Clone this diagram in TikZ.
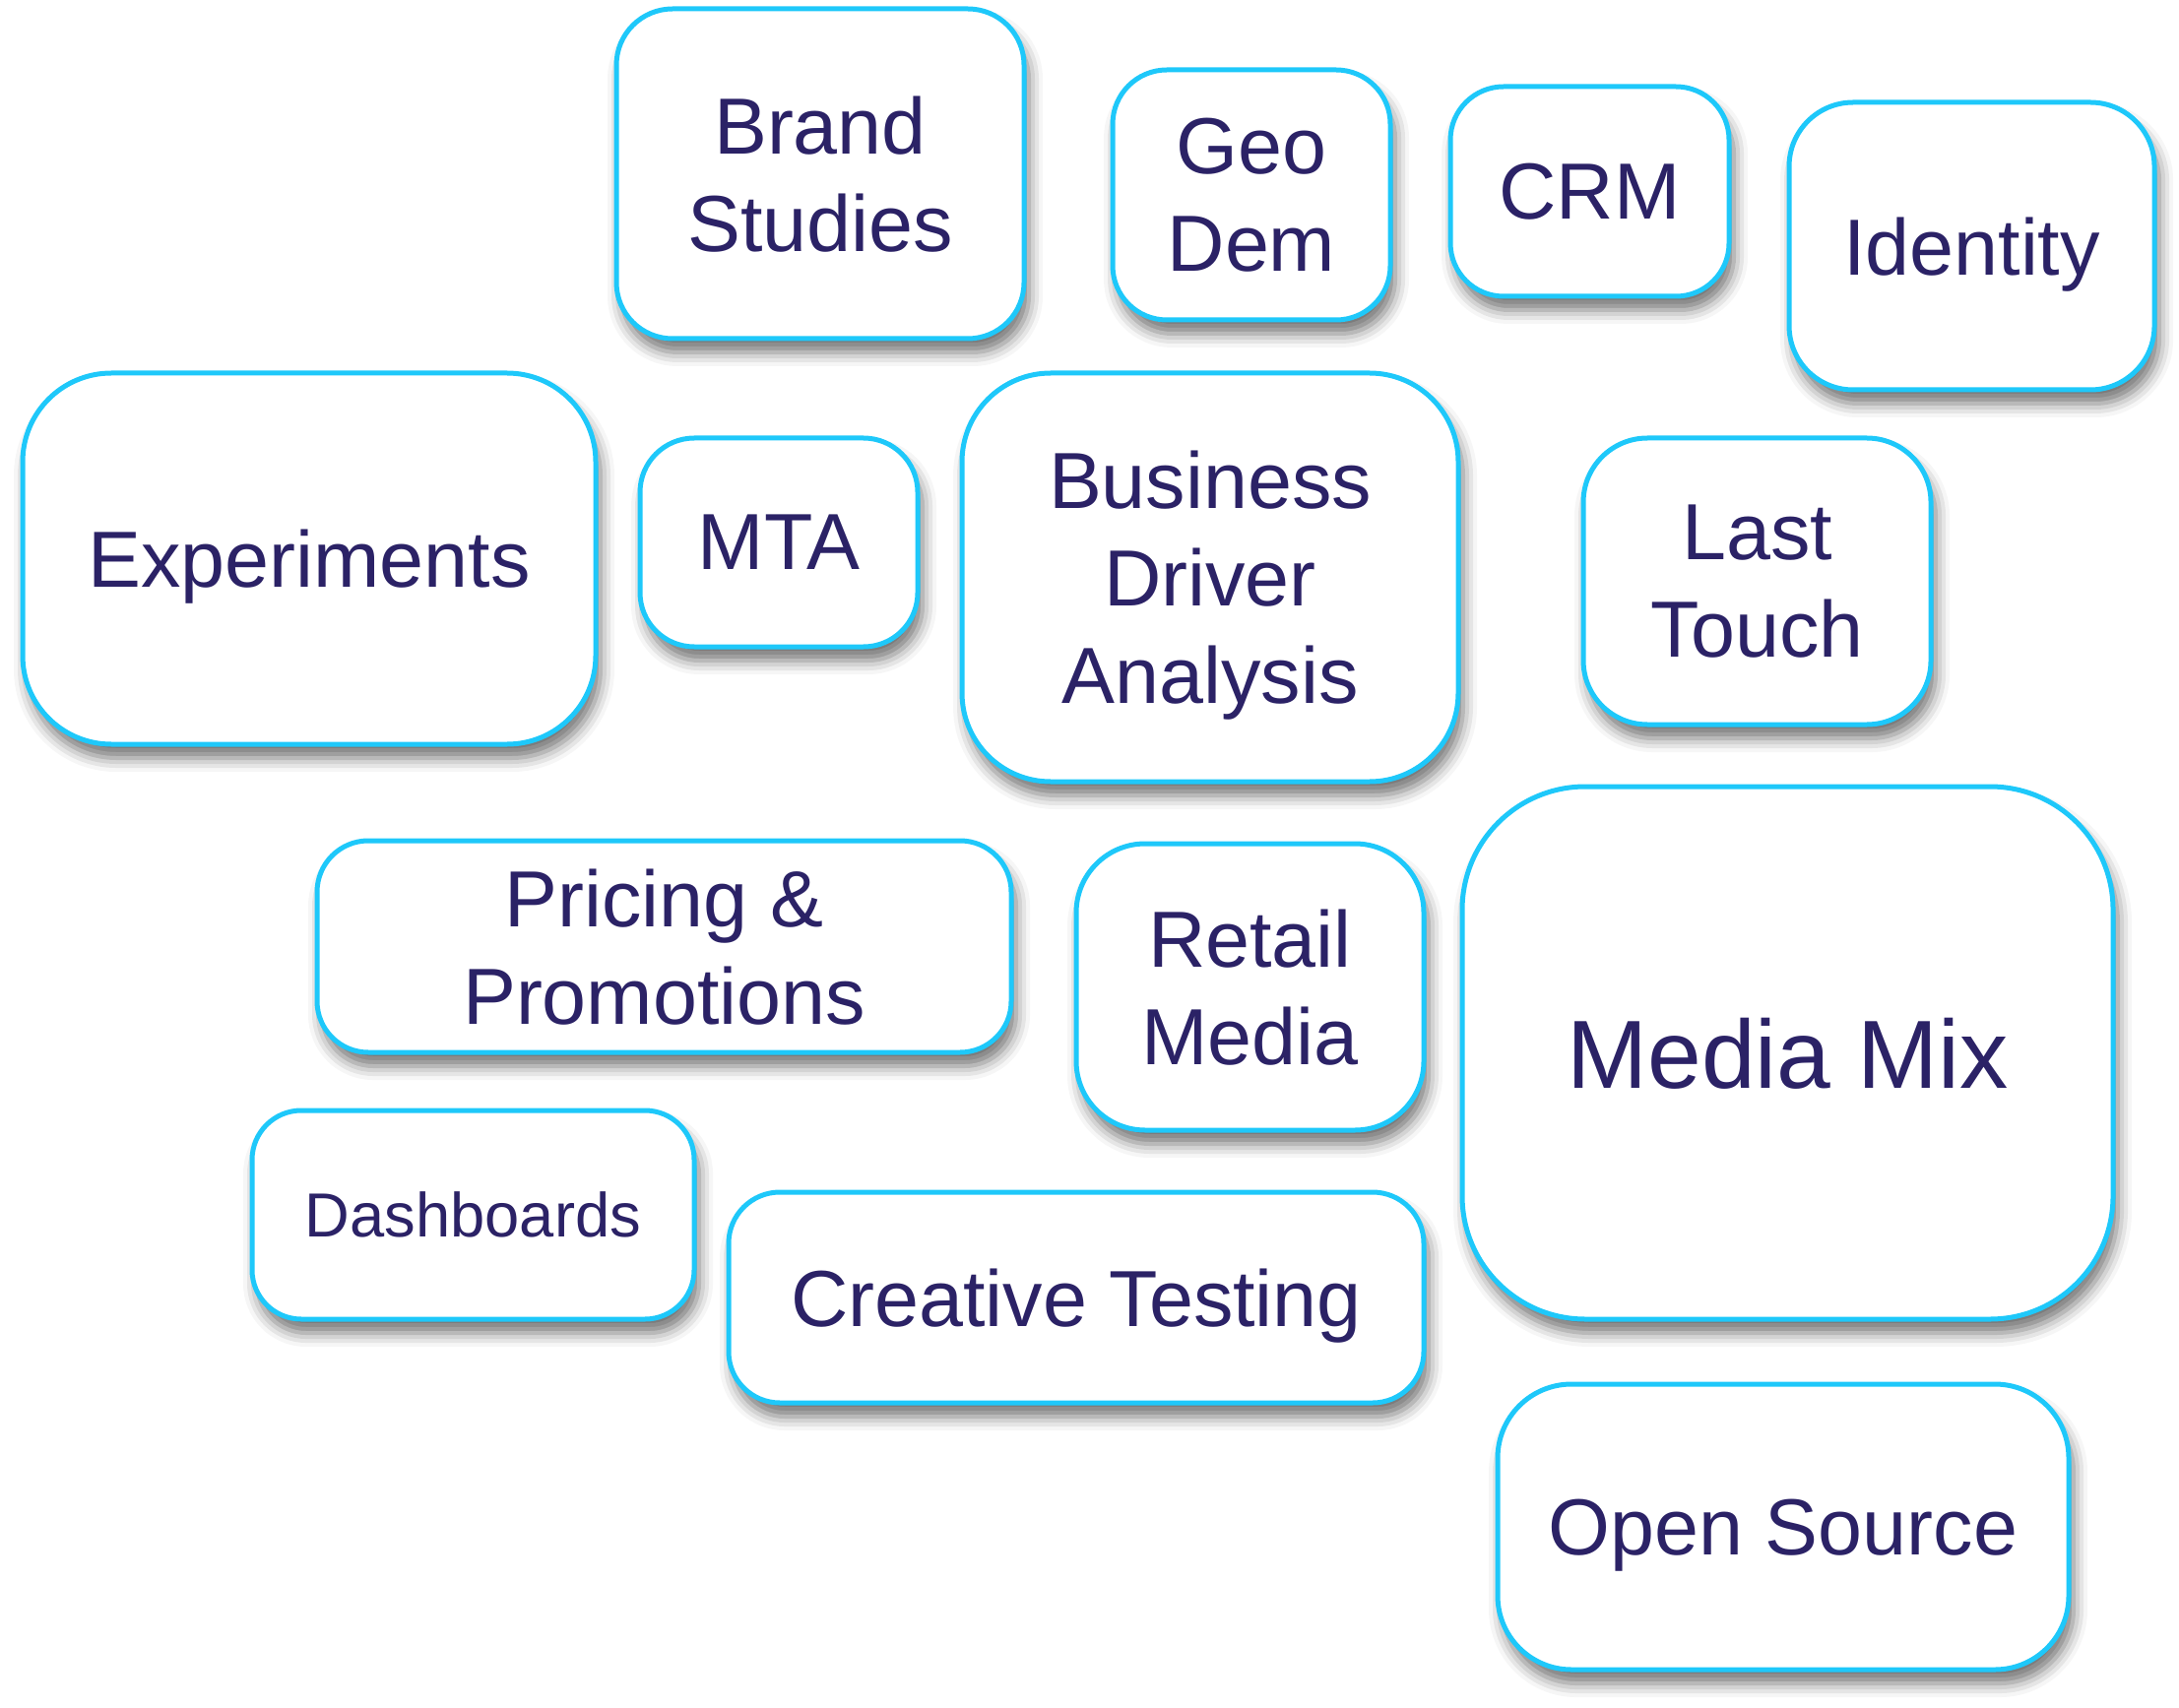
\documentclass[tikz,border=0pt]{standalone}
\usepackage{fontspec}
\setmainfont{Liberation Sans}
\usetikzlibrary{shadows.blur}
\definecolor{boxcyan}{RGB}{30,200,250}
\definecolor{inkblue}{RGB}{43,34,102}
\begin{document}
\begin{tikzpicture}[x=0.1mm, y=-0.1mm,
    method/.style={rectangle, draw=boxcyan, line width=0.5mm, fill=white,
      text=inkblue, align=center, inner sep=0pt, text depth=0pt, rounded corners=#1,
      blur shadow={shadow xshift=0.5mm, shadow yshift=-1.4mm,
        shadow blur radius=1.4mm, shadow opacity=55},
      font=\fontsize{23pt}{28.2pt}\selectfont},
    method/.default=6mm]
  \useasboundingbox (0,0) rectangle (2213,1734);
  \node [method=5.7mm, minimum width=41.4mm, minimum height=33.5mm] (brand) at (833,176.5) {Brand\\Studies};
  \node [method=5.5mm, minimum width=28.2mm, minimum height=25.4mm] (geodem) at (1271,198) {Geo\\Dem};
  \node [method=5.4mm, minimum width=28.3mm, minimum height=21.3mm] (crm) at (1614.5,194.5) {CRM};
  \node [method=6.5mm, minimum width=37.1mm, minimum height=29.2mm] (identity) at (2002.5,250) {Identity};
  \node [method=9mm, minimum width=58.2mm, minimum height=37.7mm] (exper) at (314,567.5) {Experiments};
  \node [method=5.5mm, minimum width=28.2mm, minimum height=21.2mm] (mta) at (791,551) {MTA};
  \node [method=9mm, minimum width=50.4mm, minimum height=41.5mm] (bda) at (1229,586.5) {Business\\Driver\\Analysis};
  \node [method=6.5mm, minimum width=35.3mm, minimum height=29.1mm] (lasttouch) at (1784.5,590.5) {Last\\Touch};
  \node [method=5.2mm, minimum width=70.5mm, minimum height=21.5mm] (pricing) at (674.5,961.5) {Pricing \&\\Promotions};
  \node [method=7mm, minimum width=35.3mm, minimum height=29.1mm] (retail) at (1269.5,1002.5) {Retail\\Media};
  \node [method=12.5mm, minimum width=66.1mm, minimum height=54.1mm,
    font=\fontsize{28pt}{33pt}\selectfont] (mediamix) at (1815.5,1069.5) {Media Mix};
  \node [method=5mm, minimum width=44.9mm, minimum height=21.2mm,
    font=\fontsize{18pt}{22pt}\selectfont] (dash) at (480.5,1234) {Dashboards};
  \node [method=5.2mm, minimum width=70.6mm, minimum height=21.4mm] (creative) at (1093,1318) {Creative Testing};
  \node [method=7.5mm, minimum width=58mm, minimum height=29mm] (opensrc) at (1811,1551) {Open Source};
\end{tikzpicture}
\end{document}
